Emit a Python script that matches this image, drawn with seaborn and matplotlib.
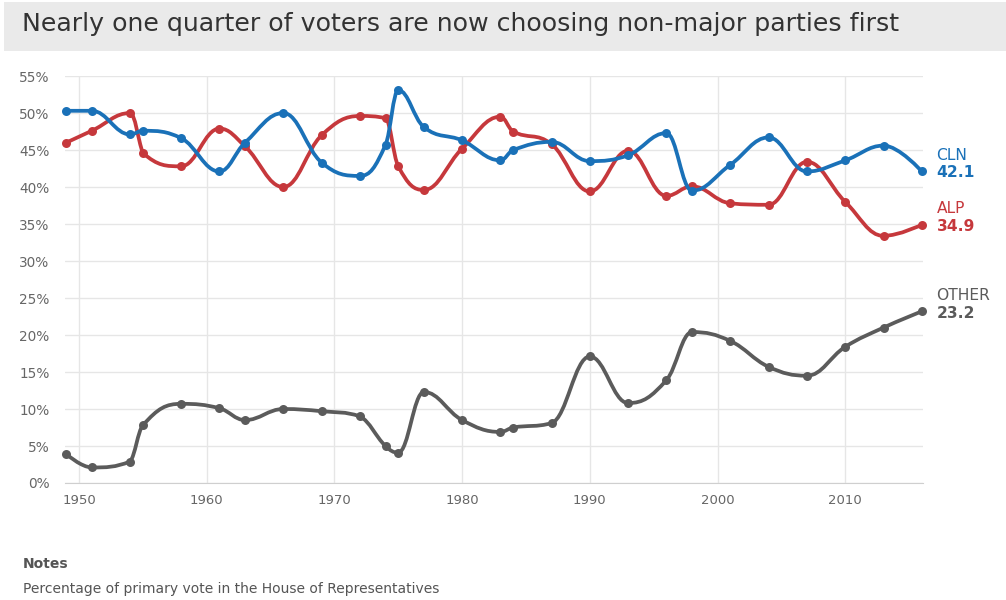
"""
Primary vote share by party, House of Representatives elections 1949-2016.
Output: out.png
"""

import matplotlib
matplotlib.use("Agg")
import matplotlib.pyplot as plt
import matplotlib.ticker as mticker
from matplotlib.patches import PathPatch, Rectangle
from matplotlib.path import Path
import pandas as pd
import seaborn as sns

YEARS = [1949, 1951, 1954, 1955, 1958, 1961, 1963, 1966, 1969, 1972, 1974,
         1975, 1977, 1980, 1983, 1984, 1987, 1990, 1993, 1996, 1998, 2001,
         2004, 2007, 2010, 2013, 2016]
CLN = [50.3, 50.3, 47.1, 47.6, 46.6, 42.1, 46.0, 50.0, 43.3, 41.5, 45.7,
       53.1, 48.1, 46.3, 43.6, 45.0, 46.1, 43.5, 44.3, 47.3, 39.5, 43.0,
       46.7, 42.1, 43.6, 45.6, 42.1]
ALP = [46.0, 47.6, 50.0, 44.6, 42.8, 47.9, 45.5, 40.0, 47.0, 49.6, 49.3,
       42.8, 39.6, 45.2, 49.5, 47.5, 45.8, 39.4, 44.9, 38.8, 40.1, 37.8,
       37.6, 43.4, 38.0, 33.4, 34.9]
OTHER = [3.9, 2.1, 2.9, 7.8, 10.7, 10.1, 8.5, 10.0, 9.7, 9.0, 5.0,
         4.1, 12.3, 8.5, 6.9, 7.5, 8.1, 17.1, 10.8, 13.9, 20.4, 19.2,
         15.7, 14.5, 18.4, 21.0, 23.2]

SERIES = ["OTHER", "ALP", "CLN"]          # drawing order, CLN on top
COLORS = {"CLN": "#1a71b8", "ALP": "#c6383c", "OTHER": "#5b5b5b"}
X_TICKS = [1950, 1960, 1970, 1980, 1990, 2000, 2010]
Y_TICKS = list(range(0, 60, 5))


def spline_path(xs, ys, smoothing=1.5):
    """Smooth curve through the points (Highcharts-style spline)."""
    denom = smoothing + 1
    n = len(xs)
    left, right = [None] * n, [None] * n
    for i in range(1, n - 1):
        px, py = xs[i], ys[i]
        lx, ly = xs[i - 1], ys[i - 1]
        nx, ny = xs[i + 1], ys[i + 1]
        lcx, lcy = (smoothing * px + lx) / denom, (smoothing * py + ly) / denom
        rcx, rcy = (smoothing * px + nx) / denom, (smoothing * py + ny) / denom
        if rcx != lcx:
            corr = (rcy - lcy) * (rcx - px) / (rcx - lcx) + py - rcy
            lcy += corr
            rcy += corr
        if lcy > ly and lcy > py:
            lcy = max(ly, py); rcy = 2 * py - lcy
        elif lcy < ly and lcy < py:
            lcy = min(ly, py); rcy = 2 * py - lcy
        if rcy > ny and rcy > py:
            rcy = max(ny, py); lcy = 2 * py - rcy
        elif rcy < ny and rcy < py:
            rcy = min(ny, py); lcy = 2 * py - rcy
        left[i] = (lcx, lcy)
        right[i] = (rcx, rcy)

    verts = [(xs[0], ys[0])]
    codes = [Path.MOVETO]
    for i in range(1, n):
        c1 = right[i - 1] or (xs[i - 1], ys[i - 1])
        c2 = left[i] or (xs[i], ys[i])
        verts += [c1, c2, (xs[i], ys[i])]
        codes += [Path.CURVE4] * 3
    return Path(verts, codes)


def main():
    df = pd.DataFrame({"year": YEARS, "CLN": CLN, "ALP": ALP, "OTHER": OTHER})
    long = df.melt(id_vars="year", var_name="party", value_name="share")

    sns.set_style("white")
    plt.rcParams["font.family"] = ["DejaVu Sans"]

    fig = plt.figure(figsize=(10.06, 6.0), dpi=100)
    ax = fig.add_axes([0.0646, 0.195, 0.853, 0.6783])

    # title band
    fig.patches.append(Rectangle((0.004, 0.915), 0.996, 0.082,
                                 transform=fig.transFigure,
                                 facecolor="#eaeaea", edgecolor="none"))
    fig.text(0.022, 0.960, "Nearly one quarter of voters are now choosing "
             "non-major parties first", fontsize=18.2, color="#333333",
             ha="left", va="center")

    for z, party in enumerate(SERIES):
        sub = long[long["party"] == party]
        patch = PathPatch(spline_path(sub["year"].tolist(), sub["share"].tolist()),
                          facecolor="none", edgecolor=COLORS[party], lw=2.7,
                          capstyle="round", joinstyle="round",
                          zorder=3 + 2 * z, clip_on=False)
        ax.add_patch(patch)
        sns.scatterplot(data=sub, x="year", y="share", color=COLORS[party],
                        s=42, linewidth=0, ax=ax, zorder=4 + 2 * z,
                        clip_on=False, legend=False)

    ax.set_xlim(1948.9, 2016.1)
    ax.set_ylim(0, 55)
    ax.set_xticks(X_TICKS)
    ax.set_yticks(Y_TICKS)
    ax.yaxis.set_major_formatter(mticker.FuncFormatter(lambda v, _: f"{v:.0f}%"))
    ax.set_xlabel("")
    ax.set_ylabel("")
    ax.grid(True, color="#e6e6e6", lw=1)
    ax.set_axisbelow(True)
    for side in ["top", "right", "left"]:
        ax.spines[side].set_visible(False)
    ax.spines["bottom"].set_color("#cfcfcf")
    ax.tick_params(axis="x", length=6, width=1, color="#d8d8d8",
                   labelsize=9.5, labelcolor="#666666", pad=2)
    ax.tick_params(axis="y", length=0, labelsize=9.8, labelcolor="#666666", pad=11)

    # end labels
    ends = {"CLN": (0.7400, 0.7133), "ALP": (0.6517, 0.6233), "OTHER": (0.5067, 0.4783)}
    for party, (y_name, y_val) in ends.items():
        fig.text(0.931, y_name, party, fontsize=11.2, color=COLORS[party],
                 ha="left", va="center")
        fig.text(0.931, y_val, f"{df[party].iloc[-1]:.1f}", fontsize=11.2,
                 fontweight="bold", color=COLORS[party], ha="left", va="center")

    fig.text(0.023, 0.060, "Notes", fontsize=10, fontweight="bold",
             color="#555555", ha="left", va="center")
    fig.text(0.023, 0.018, "Percentage of primary vote in the House of Representatives",
             fontsize=10, color="#555555", ha="left", va="center")

    fig.savefig("out.png", dpi=100)
    plt.close(fig)


if __name__ == "__main__":
    main()
